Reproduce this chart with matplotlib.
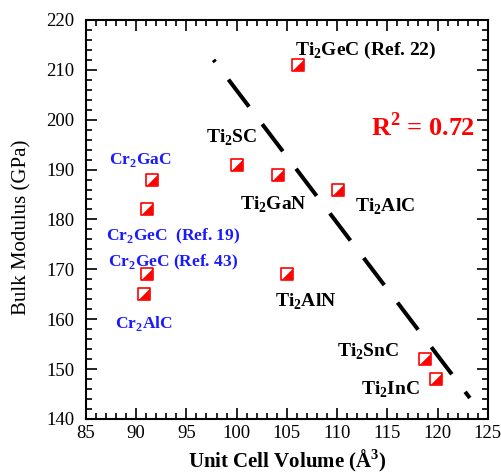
import matplotlib
matplotlib.use("Agg")
import matplotlib.pyplot as plt
from matplotlib.ticker import MultipleLocator

plt.rcParams['font.family'] = ['Liberation Serif', 'DejaVu Serif']
plt.rcParams['mathtext.fontset'] = 'custom'
plt.rcParams['mathtext.rm'] = 'Liberation Serif'
plt.rcParams['mathtext.bf'] = 'Liberation Serif:bold'
plt.rcParams['lines.scale_dashes'] = False

# Data
volume = [106.1, 100.0, 104.1, 110.1, 91.6, 91.1, 91.1, 90.8, 105.0, 118.7, 119.8]
bulk = [211, 191, 189, 186, 188, 182, 169, 165, 169, 152, 148]

fit_x = [97.7, 123.2]
fit_y = [212.0, 144.2]

labels_black = [r'Ti$_\mathbf{2}$GeC (Ref. 22)', r'Ti$_\mathbf{2}$SC', r'Ti$_\mathbf{2}$GaN',
                r'Ti$_\mathbf{2}$AlC', r'Ti$_\mathbf{2}$AlN', r'Ti$_\mathbf{2}$SnC', r'Ti$_\mathbf{2}$InC']
lab_black_x = [105.8, 97.0, 100.3, 111.8, 103.8, 110.0, 112.4]
lab_black_y = [213.0, 195.3, 181.9, 181.5, 162.5, 152.5, 144.9]

labels_blue = [r'Cr$_\mathbf{2}$GaC', r'Cr$_\mathbf{2}$GeC  (Ref. 19)',
               r'Cr$_\mathbf{2}$GeC (Ref. 43)', r'Cr$_\mathbf{2}$AlC']
lab_blue_x = [87.3, 87.0, 87.2, 87.9]
lab_blue_y = [191.1, 175.9, 170.5, 158.3]

r2_text = r'R$^\mathbf{2}$ = 0.72'

fig = plt.figure(figsize=(5.02, 4.75), dpi=100)
ax = fig.add_axes([0.171, 0.118, 0.801, 0.840])

ax.plot(fit_x, fit_y, color='black', linewidth=2.9,
        linestyle=(22.5, (24.5, 15.8)), dash_capstyle='butt', zorder=2)

# markers: red-edged square with white fill, red lower-right triangle
ax.scatter(volume, bulk, marker='s', s=70, facecolor='white', edgecolor='red',
           linewidths=1.2, zorder=3)
tri = [(-1, -1), (1, -1), (1, 1), (-1, -1)]
ax.scatter(volume, bulk, marker=tri, s=55, facecolor='red', edgecolor='red',
           linewidths=0.3, zorder=4)

for t, x, y in zip(labels_black, lab_black_x, lab_black_y):
    ax.text(x, y, t, color='black', fontsize=14, fontweight='bold', ha='left', va='baseline')
for t, x, y in zip(labels_blue, lab_blue_x, lab_blue_y):
    ax.text(x, y, t, color='#1a1aff', fontsize=12.5, fontweight='bold', ha='left', va='baseline')
ax.text(113.4, 196.7, r2_text, color='red', fontsize=19, fontweight='bold', ha='left', va='baseline')

ax.set_xlim(85, 125)
ax.set_ylim(140, 220)
ax.xaxis.set_major_locator(MultipleLocator(5))
ax.xaxis.set_minor_locator(MultipleLocator(1))
ax.yaxis.set_major_locator(MultipleLocator(10))
ax.yaxis.set_minor_locator(MultipleLocator(2))
ax.tick_params(which='both', direction='in', top=True, right=True, labelsize=13.5, width=1.2)
ax.tick_params(which='major', length=8)
ax.tick_params(which='minor', length=4.5)
ax.tick_params(axis='y', which='major', pad=8.5)
ax.tick_params(axis='x', which='major', pad=4)
for s in ax.spines.values():
    s.set_linewidth(1.5)

ax.set_xlabel(r'Unit Cell Volume (Å$^\mathbf{3}$)', fontsize=15, fontweight='bold', labelpad=4)
ax.set_ylabel('Bulk Modulus (GPa)', fontsize=15)
ax.yaxis.set_label_coords(-0.135, 0.48)

fig.savefig('out.png', dpi=100)
